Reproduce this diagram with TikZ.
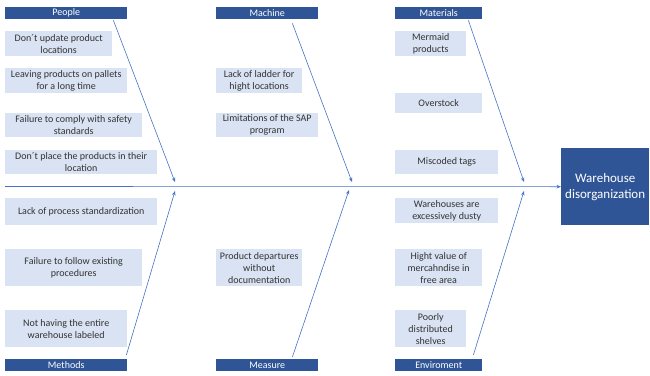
\documentclass[tikz,border=0pt]{standalone}
\usepackage{fontspec}
\setmainfont{Carlito}
\usetikzlibrary{arrows.meta}
\definecolor{headblue}{HTML}{2F5597}
\definecolor{causefill}{HTML}{DAE3F3}
\definecolor{bonecol}{HTML}{4472C4}
\begin{document}
\begin{tikzpicture}[x=1pt, y=-1pt,
        head/.style={anchor=north west, fill=headblue, text=white, inner sep=0pt, minimum height=12pt, font=\fontsize{10}{12}\selectfont},
        cause/.style={anchor=north west, fill=causefill, text=black!80, inner sep=0pt, align=center, font=\fontsize{10}{12}\selectfont},
        bone/.style={draw=bonecol, line width=0.6pt, -{Stealth[length=4.5pt, width=3.5pt]}}]
        \useasboundingbox (0,0) rectangle (650,375);
        % categories
        \node[head, minimum width=122pt] (people) at (5,7) {People};
        \node[head, minimum width=102pt] (machine) at (216,7) {Machine};
        \node[head, minimum width=87pt] (materials) at (395,7) {Materials};
        \node[head, minimum width=122pt] (methods) at (5,359) {Methods};
        \node[head, minimum width=102pt] (measure) at (216,359) {Measure};
        \node[head, minimum width=87pt] (enviroment) at (395,359) {Enviroment};
        % causes
        \node[cause, minimum width=107pt, minimum height=25pt] (p1) at (5,31) {Don´t update product\\locations};
        \node[cause, minimum width=122pt, minimum height=25pt] (p2) at (5,68) {Leaving products on pallets\\for a long time};
        \node[cause, minimum width=137pt, minimum height=24pt] (p3) at (5,113) {Failure to comply with safety\\standards};
        \node[cause, minimum width=152pt, minimum height=24pt] (p4) at (5,150) {Don´t place the products in their\\location};
        \node[cause, minimum width=86pt, minimum height=25pt] (m1) at (216,68) {Lack of ladder for\\hight locations};
        \node[cause, minimum width=102pt, minimum height=24pt] (m2) at (216,113) {Limitations of the SAP\\program};
        \node[cause, minimum width=71pt, minimum height=25pt] (t1) at (395,31) {Mermaid\\products};
        \node[cause, minimum width=87pt, minimum height=20pt] (t2) at (395,93) {Overstock};
        \node[cause, minimum width=103pt, minimum height=24pt] (t3) at (395,150) {Miscoded tags};
        \node[cause, minimum width=152pt, minimum height=27pt] (d1) at (5,198) {Lack of process standardization};
        \node[cause, minimum width=137pt, minimum height=37pt] (d2) at (5,249) {Failure to follow existing\\procedures};
        \node[cause, minimum width=122pt, minimum height=37pt] (d3) at (5,310) {Not having the entire\\warehouse labeled};
        \node[cause, minimum width=86pt, minimum height=37pt] (s1) at (216,249) {Product departures\\without\\documentation};
        \node[cause, minimum width=103pt, minimum height=25pt] (e1) at (395,198) {Warehouses are\\excessively dusty};
        \node[cause, minimum width=87pt, minimum height=37pt] (e2) at (395,249) {Hight value of\\mercahndise in\\free area};
        \node[cause, minimum width=71pt, minimum height=37pt] (e3) at (395,310) {Poorly\\distributed\\shelves};
        % effect
        \node[anchor=north west, fill=headblue, text=white, inner sep=0pt, minimum width=88pt, minimum height=77pt, align=center, font=\fontsize{13}{16}\selectfont] (effect) at (561,148) {Warehouse\\disorganization};
        % spine
        \coordinate (tail) at (5,186.5);
        \coordinate (pt) at (175,182);
        \coordinate (mt) at (352,182);
        \coordinate (tt) at (524,182);
        \coordinate (dt) at (175,191);
        \coordinate (st) at (349,190);
        \coordinate (et) at (524,191);
        \draw[bone] (tail) -- (effect.west);
        \draw[bone] ([xshift=-14pt, yshift=-1pt]people.south east) -- (pt);
        \draw[bone] ([xshift=-26pt, yshift=-4pt]machine.south east) -- (mt);
        \draw[bone] ([xshift=-14pt, yshift=-1pt]materials.south east) -- (tt);
        \draw[bone] ([xshift=-1pt, yshift=4pt]methods.north east) -- (dt);
        \draw[bone] ([xshift=-26pt, yshift=2pt]measure.north east) -- (st);
        \draw[bone] ([xshift=-9pt, yshift=4pt]enviroment.north east) -- (et);
\end{tikzpicture}
\end{document}
